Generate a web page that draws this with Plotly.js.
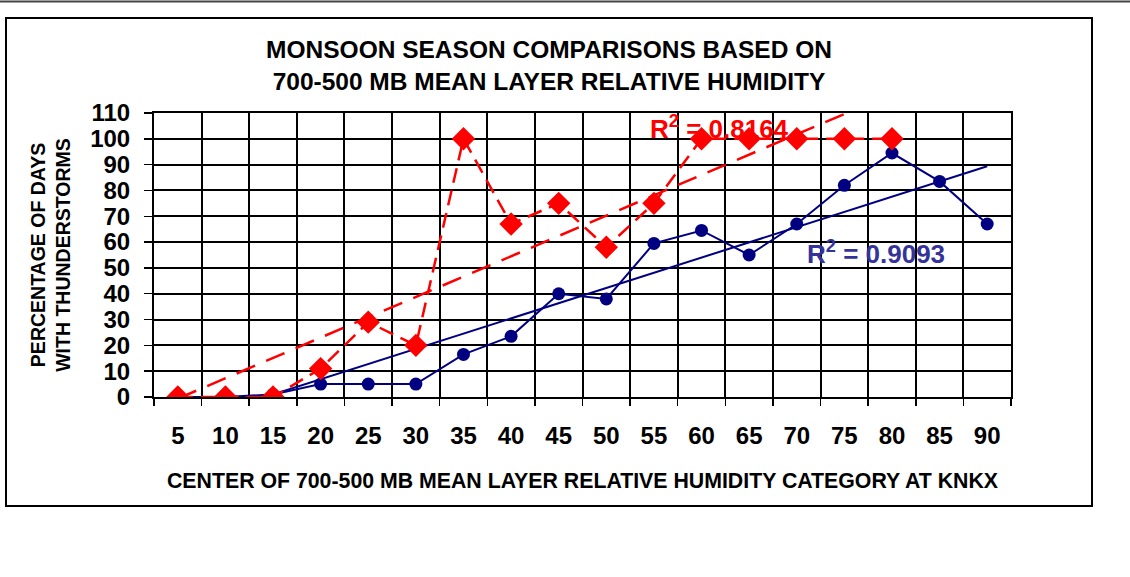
<!DOCTYPE html>
<html>
<head>
<meta charset="utf-8">
<script src="https://cdn.plot.ly/plotly-3.0.1.min.js"></script>
<style>html,body{margin:0;padding:0;background:#fff;}#chart{width:1130px;height:577px;}</style>
</head>
<body>
<div id="chart"></div>
<script>
// Categories: center of 700-500 mb mean layer RH category (%)
var categories = ["5","10","15","20","25","30","35","40","45","50","55","60","65","70","75","80","85","90"];
// Red series (diamonds, dashed) - percentage of days with thunderstorms
var redCats = ["5","10","15","20","25","30","35","40","45","50","55","60","65","70","75","80"];
var redValues = [0,0,0,11,29,20,100,67,75,58,75,100,100,100,100,100];
// Blue series (circles, solid)
var blueCats = categories;
var blueValues = [0,0,1,5,5,5,16.5,23.5,40,38,59.5,64.5,55,67,82,94.5,83.5,67];
var redR2Label = "R<sup>2</sup> = 0.8164";
var blueR2Label = "R<sup>2</sup> = 0.9093";

// Linear trendline over category index (1..n), as a spreadsheet does for line charts
function trend(vals) {
  var n = vals.length, sx = 0, sy = 0, sxy = 0, sxx = 0;
  for (var i = 0; i < n; i++) { var x = i + 1; sx += x; sy += vals[i]; sxy += x * vals[i]; sxx += x * x; }
  var m = (n * sxy - sx * sy) / (n * sxx - sx * sx);
  var b = (sy - m * sx) / n;
  return vals.map(function (_, i) { return m * (i + 1) + b; });
}

var RED = "#ff0000", NAVY = "#000080";
var FONT = "Liberation Sans, Arial, sans-serif";

var traces = [
  {x: blueCats, y: trend(blueValues), type: "scatter", mode: "lines",
   line: {color: NAVY, width: 2}, hoverinfo: "skip", showlegend: false},
  {x: blueCats, y: blueValues, type: "scatter", mode: "lines+markers",
   line: {color: NAVY, width: 2}, marker: {symbol: "circle", size: 13, color: NAVY}, showlegend: false},
  {x: redCats, y: trend(redValues), type: "scatter", mode: "lines",
   line: {color: RED, width: 2.5, dash: "20px,12px"}, hoverinfo: "skip", showlegend: false},
  {x: redCats, y: redValues, type: "scatter", mode: "lines+markers",
   line: {color: RED, width: 2.5, dash: "15px,8px"}, marker: {symbol: "diamond", size: 18, color: RED}, showlegend: false}
];

var L = 154, R = 1011, T = 113, B = 397, W = 1130, H = 577;
var pw = R - L, ph = B - T;
function px(x) { return (x - L) / pw; }
function py(y) { return (B - y) / ph; }

var layout = {
  width: W, height: H,
  margin: {l: L, r: W - R, t: T, b: H - B, pad: 0},
  paper_bgcolor: "#fff", plot_bgcolor: "#fff",
  font: {family: FONT, color: "#000"},
  title: {text: "<b>MONSOON SEASON COMPARISONS BASED ON<br>700-500 MB MEAN LAYER RELATIVE HUMIDITY</b>",
          font: {size: 24.5, color: "#000", family: FONT}, x: px(549), xref: "paper", xanchor: "center",
          y: 1 - 58 / H, yref: "container", yanchor: "middle"},
  xaxis: {type: "category", categoryorder: "array", categoryarray: categories,
          range: [-0.5, categories.length - 0.5], autorange: false,
          tickson: "boundaries", ticks: "outside", ticklen: 7, tickwidth: 1.5, tickcolor: "#000",
          showgrid: true, gridcolor: "#000", gridwidth: 2,
          showline: true, linecolor: "#000", linewidth: 2, mirror: true,
          tickfont: {size: 24, color: "#000", family: FONT, weight: "bold"},
          ticklabelstandoff: 16, fixedrange: true,
          title: {text: "<b>CENTER OF 700-500 MB MEAN LAYER RELATIVE HUMIDITY CATEGORY AT KNKX</b>",
                  font: {size: 21.3, color: "#000", family: FONT}, standoff: 25}},
  yaxis: {range: [0, 110], autorange: false, tick0: 0, dtick: 10, ticks: "outside", ticklen: 8, tickwidth: 1.5, tickcolor: "#000",
          showgrid: true, gridcolor: "#000", gridwidth: 2, zeroline: false,
          showline: true, linecolor: "#000", linewidth: 2, mirror: true,
          tickfont: {size: 24, color: "#000", family: FONT, weight: "bold"},
          ticklabelstandoff: 9, fixedrange: true,
          title: {text: "<b>PERCENTAGE OF DAYS<br>WITH THUNDERSTORMS</b>", font: {size: 19.5, color: "#000", family: FONT}, standoff: 14}},
  annotations: [
    {text: "<b>" + redR2Label + "</b>", xref: "paper", yref: "paper", x: px(648), y: py(127),
     xanchor: "left", yanchor: "middle", showarrow: false, font: {size: 26, color: RED, family: FONT}},
    {text: "<b>" + blueR2Label + "</b>", xref: "paper", yref: "paper", x: px(805), y: py(252),
     xanchor: "left", yanchor: "middle", showarrow: false, font: {size: 26, color: "#333399", family: FONT}}
  ],
  shapes: [
    {type: "rect", xref: "paper", yref: "paper", x0: px(6), x1: px(1092), y0: py(506), y1: py(18),
     line: {color: "#000", width: 2}, fillcolor: "rgba(0,0,0,0)", layer: "below"},
    {type: "line", xref: "paper", yref: "paper", x0: px(0), x1: px(W), y0: py(1.5), y1: py(1.5),
     line: {color: "#444", width: 2}}
  ]
};

Plotly.newPlot("chart", traces, layout, {displayModeBar: false, staticPlot: true});
</script>
</body>
</html>
